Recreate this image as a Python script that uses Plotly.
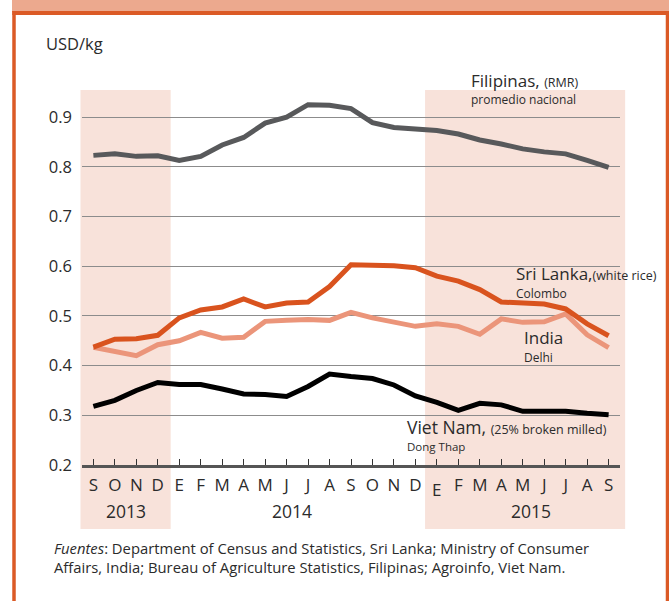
import plotly.graph_objects as go

months = ["S", "O", "N", "D", "E", "F", "M", "A", "M", "J", "J", "A", "S",
          "O", "N", "D", "E", "F", "M", "A", "M", "J", "J", "A", "S"]
years = ["2013", "2014", "2015"]
year_pos = [1.5, 9.25, 20.4]

filipinas = [0.823, 0.826, 0.821, 0.822, 0.813, 0.821, 0.844, 0.859, 0.888, 0.900,
             0.925, 0.924, 0.917, 0.889, 0.879, 0.875, 0.873, 0.866, 0.854, 0.846,
             0.836, 0.830, 0.826, 0.813, 0.799]
sri_lanka = [0.437, 0.453, 0.454, 0.461, 0.496, 0.512, 0.518, 0.534, 0.518, 0.526,
             0.528, 0.559, 0.603, 0.603, 0.601, 0.597, 0.580, 0.570, 0.553, 0.528,
             0.526, 0.524, 0.514, 0.484, 0.460]
india = [0.437, 0.428, 0.420, 0.442, 0.450, 0.467, 0.455, 0.457, 0.489, 0.491,
         0.493, 0.491, 0.507, 0.496, 0.487, 0.479, 0.484, 0.479, 0.463, 0.494,
         0.487, 0.488, 0.504, 0.462, 0.436]
viet_nam = [0.318, 0.330, 0.350, 0.366, 0.362, 0.362, 0.353, 0.343, 0.342, 0.338,
            0.358, 0.383, 0.378, 0.374, 0.361, 0.339, 0.326, 0.310, 0.324, 0.321,
            0.308, 0.308, 0.308, 0.304, 0.301]

shade_2013 = [-0.6, 3.6]
shade_2015 = [15.45, 24.77]
low_tick = 16  # the "E" of 2015 sits slightly lower in the original

W, H = 669, 601
PL, PR, PT, PB = 82, 620, 90, 465
XMIN, XMAX = -0.53, 24.53
YMIN = 0.2
YMAX = 0.2 + (PB - PT) / 497.0

FONT = "Open Sans"
TXT = "#2b2b2b"


def px(x):
    return (x - PL) / (PR - PL)


def py(y):
    return (PB - y) / (PB - PT)


def dx(v):
    return (v - XMIN) / (XMAX - XMIN)


idx = list(range(len(months)))

fig = go.Figure()
series = [
    (filipinas, "#58595b", "Filipinas"),
    (india, "#eb957a", "India"),
    (sri_lanka, "#d9531e", "Sri Lanka"),
    (viet_nam, "#000000", "Viet Nam"),
]
for vals, col, name in series:
    fig.add_trace(go.Scatter(x=idx, y=vals, mode="lines", name=name,
                             line=dict(color=col, width=5), showlegend=False,
                             hoverinfo="skip"))

shapes = []
pink = "#f8e2da"
for a, b in (shade_2013, shade_2015):
    shapes.append(dict(type="rect", xref="paper", yref="paper",
                       x0=dx(a), x1=dx(b), y0=py(529), y1=1,
                       fillcolor=pink, line=dict(width=0), layer="below"))
# top band and frame
shapes.append(dict(type="rect", xref="paper", yref="paper",
                   x0=px(12), x1=px(669), y0=py(0), y1=py(12),
                   fillcolor="#eca98e", line=dict(width=0), layer="below"))
border = "#db5a26"
shapes.append(dict(type="line", xref="paper", yref="paper",
                   x0=px(12.3), x1=px(669), y0=py(13), y1=py(13),
                   line=dict(color=border, width=4)))
shapes.append(dict(type="line", xref="paper", yref="paper",
                   x0=px(14), x1=px(14), y0=py(11), y1=py(605),
                   line=dict(color=border, width=3.5)))
shapes.append(dict(type="line", xref="paper", yref="paper",
                   x0=px(667.5), x1=px(667.5), y0=py(11), y1=py(605),
                   line=dict(color=border, width=3.5)))

ann = []


def label(x, y, text, size, anchor="left", yanchor="middle"):
    ann.append(dict(xref="paper", yref="paper", x=px(x), y=py(y), text=text,
                    showarrow=False, xanchor=anchor, yanchor=yanchor, align="left",
                    font=dict(family=FONT, size=size, color=TXT)))


def sp(t, s):
    return '<span style="font-size:%spx">%s</span>' % (s, t)


# two-line series labels: annotation font size sets the line gap
label(468.5, 110, sp("Filipinas, ", 17) + sp("(RMR)", 12.5) + "<br>" + sp("promedio nacional", 12),
      13.1, yanchor="bottom")
label(514, 304, sp("Sri Lanka,", 17) + sp("(white rice)", 12.5) + "<br>" + sp("Colombo", 12),
      13.85, yanchor="bottom")
label(522, 367.5, sp("India", 17) + "<br>" + sp("Delhi", 12), 13.85, yanchor="bottom")
label(405, 456.4, sp("Viet Nam, ", 17.5) + sp("(25% broken milled)", 12.5) + "<br>" + sp("Dong Thap", 11.5),
      13.1, yanchor="bottom")
label(44, 44, "USD/kg", 16.5)

for yr, pos in zip(years, year_pos):
    ann.append(dict(xref="paper", yref="paper", x=dx(pos), y=py(511), text=yr,
                    showarrow=False, xanchor="center", yanchor="middle",
                    font=dict(family=FONT, size=17.5, color=TXT)))

tick_text = [("" if i == low_tick else m) for i, m in enumerate(months)]
ann.append(dict(xref="paper", yref="paper", x=dx(low_tick), y=py(489), text=months[low_tick],
                showarrow=False, xanchor="center", yanchor="middle",
                font=dict(family=FONT, size=17, color=TXT)))

label(52, 548, "<i>Fuentes</i>: Department of Census and Statistics, Sri Lanka; Ministry of Consumer", 14.8)
label(52, 567, "Affairs, India; Bureau of Agriculture Statistics, Filipinas; Agroinfo, Viet Nam.", 14.8)

fig.update_layout(
    width=W, height=H,
    margin=dict(l=PL, r=W - PR, t=PT, b=H - PB, pad=0),
    paper_bgcolor="white", plot_bgcolor="rgba(0,0,0,0)",
    font=dict(family=FONT, color=TXT),
    shapes=shapes, annotations=ann,
    xaxis=dict(range=[XMIN, XMAX], tickmode="array", tickvals=idx, ticktext=tick_text,
               showgrid=False, zeroline=False, showline=True, linecolor="#555555",
               linewidth=2.5, ticks="inside", ticklen=6, tickwidth=1, tickcolor="#333333",
               tickfont=dict(family=FONT, size=17, color=TXT), ticklabelstandoff=3,
               fixedrange=True),
    yaxis=dict(range=[YMIN, YMAX], tickmode="array",
               tickvals=[0.2, 0.3, 0.4, 0.5, 0.6, 0.7, 0.8, 0.9],
               ticktext=["0.2", "0.3", "0.4", "0.5", "0.6", "0.7", "0.8", "0.9"],
               showgrid=True, gridcolor="#8c8c8c", gridwidth=1.2, zeroline=False,
               showline=False, ticks="", tickfont=dict(family=FONT, size=16.5, color=TXT),
               ticklabelstandoff=9, fixedrange=True),
)

fig.write_html("out.html", config={"displayModeBar": False},
               post_script="document.body.style.margin='0';document.body.style.padding='0';")
